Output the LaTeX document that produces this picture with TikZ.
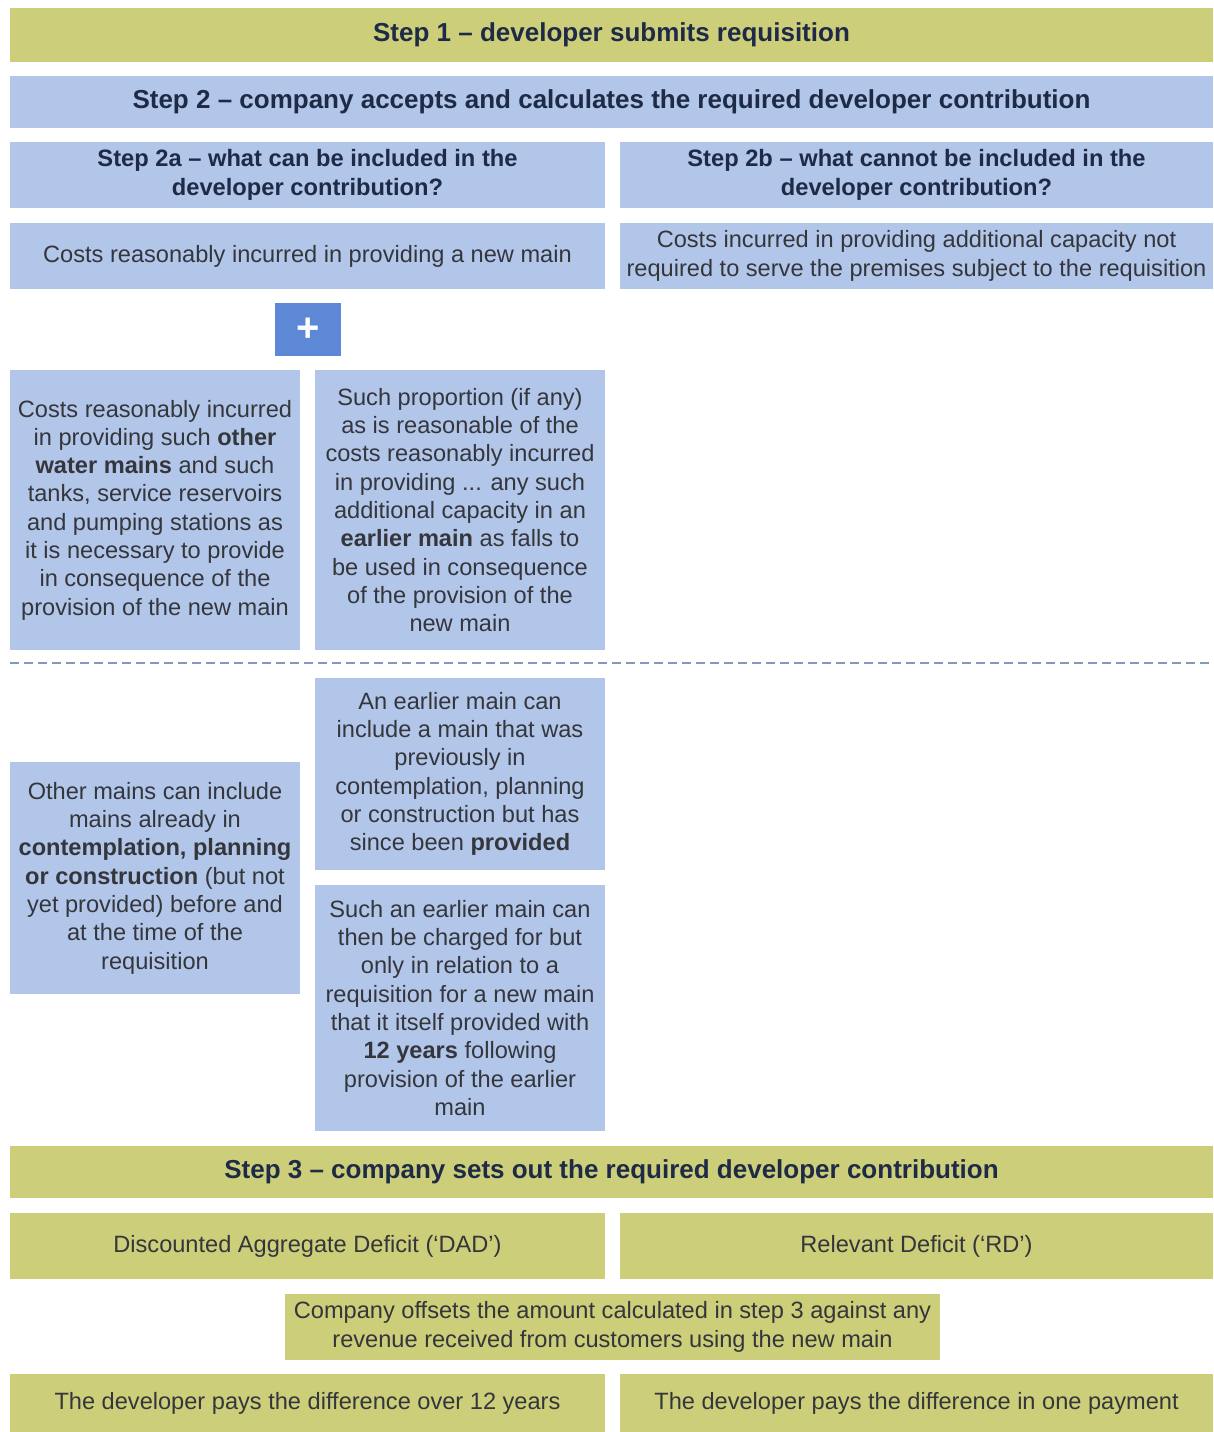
\documentclass[tikz,border=0pt]{standalone}
\usepackage{fontspec}
\setmainfont{Liberation Sans}
\definecolor{olive}{RGB}{204,206,122}
\definecolor{paleblue}{RGB}{178,198,233}
\definecolor{plusblue}{RGB}{92,136,214}
\definecolor{headtext}{RGB}{30,42,70}
\definecolor{bodytext}{RGB}{52,54,60}
\definecolor{dashcol}{RGB}{130,152,196}
\begin{document}
\begin{tikzpicture}[x=1pt,y=-1pt,
  box/.style={inner sep=0pt, align=center, font=\fontsize{23.6}{28.3}\selectfont, text=bodytext},
  oliveBox/.style={box, fill=olive},
  blueBox/.style={box, fill=paleblue},
  band/.style={font=\fontsize{26}{28.3}\selectfont\bfseries, text=headtext},
  head/.style={font=\fontsize{23.7}{28.3}\selectfont\bfseries, text=headtext},
  plusbox/.style={inner sep=0pt, fill=plusblue, text=white, font=\fontsize{40}{40}\selectfont\bfseries},
  divider/.style={draw=dashcol, line width=2pt, dash pattern=on 9pt off 5pt}
]
\useasboundingbox (0,0) rectangle (1213,1432);
\fill[white] (0,0) rectangle (1213,1432);

% Step 1 and step 2 bands
\node[oliveBox, band, minimum width=1203pt, minimum height=54pt] (s1) at (611.5,35) {Step 1 -- developer submits requisition};
\node[blueBox, band, minimum width=1203pt, minimum height=52pt] (s2) at (611.5,102) {Step 2 -- company accepts and calculates the required developer contribution};

% Step 2a / 2b headers
\node[blueBox, head, minimum width=595pt, minimum height=66pt] (s2a) at (307.5,175) {Step 2a -- what can be included in the\\developer contribution?};
\node[blueBox, head, minimum width=593pt, minimum height=66pt] (s2b) at (916.5,175) {Step 2b -- what cannot be included in the\\developer contribution?};

% First-level items
\node[blueBox, minimum width=595pt, minimum height=66pt] (newmain) at (307.5,256) {Costs reasonably incurred in providing a new main};
\node[blueBox, minimum width=593pt, minimum height=66pt] (extracap) at (916.5,256) {Costs incurred in providing additional capacity not\\required to serve the premises subject to the requisition};

% Plus sign
\node[plusbox, minimum width=66pt, minimum height=53pt] (plus) at (308,329.5) {+};

% Additional items
\node[blueBox, minimum width=290pt, minimum height=280pt] (othermains) at (155,510) {Costs reasonably incurred\\in providing such \textbf{other}\\\textbf{water mains} and such\\tanks, service reservoirs\\and pumping stations as\\it is necessary to provide\\in consequence of the\\provision of the new main};
\node[blueBox, minimum width=290pt, minimum height=280pt] (proportion) at (460,510) {Such proportion (if any)\\as is reasonable of the\\costs reasonably incurred\\in providing ... any such\\additional capacity in an\\\textbf{earlier main} as falls to\\be used in consequence\\of the provision of the\\new main};

% Divider
\coordinate (divL) at (10,663);
\coordinate (divR) at (1213,663);
\draw[divider] (divL) -- (divR);

% Notes below the divider
\node[blueBox, minimum width=290pt, minimum height=232pt] (othernote) at (155,878) {Other mains can include\\mains already in\\\textbf{contemplation, planning}\\\textbf{or construction} (but not\\yet provided) before and\\at the time of the\\requisition};
\node[blueBox, minimum width=290pt, minimum height=192pt] (earliernote) at (460,774) {An earlier main can\\include a main that was\\previously in\\contemplation, planning\\or construction but has\\since been \textbf{provided}};
\node[blueBox, minimum width=290pt, minimum height=246pt] (chargenote) at (460,1008) {Such an earlier main can\\then be charged for but\\only in relation to a\\requisition for a new main\\that it itself provided with\\\textbf{12 years} following\\provision of the earlier\\main};

% Step 3
\node[oliveBox, band, minimum width=1203pt, minimum height=52pt] (s3) at (611.5,1172) {Step 3 -- company sets out the required developer contribution};
\node[oliveBox, minimum width=595pt, minimum height=66pt] (dad) at (307.5,1246) {Discounted Aggregate Deficit (`DAD')};
\node[oliveBox, minimum width=593pt, minimum height=66pt] (rd) at (916.5,1246) {Relevant Deficit (`RD')};
\node[oliveBox, minimum width=655pt, minimum height=66pt] (offset) at (612.5,1327) {Company offsets the amount calculated in step 3 against any\\revenue received from customers using the new main};
\node[oliveBox, minimum width=595pt, minimum height=58pt] (pay12) at (307.5,1403) {The developer pays the difference over 12 years};
\node[oliveBox, minimum width=593pt, minimum height=58pt] (payone) at (916.5,1403) {The developer pays the difference in one payment};
\end{tikzpicture}
\end{document}
